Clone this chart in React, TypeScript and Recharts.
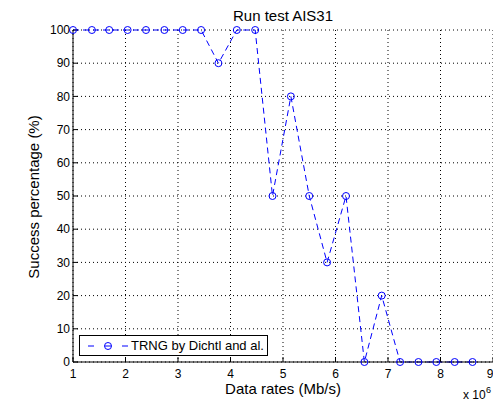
import React from 'react';
import { LineChart, Line, XAxis, YAxis, CartesianGrid, Legend } from 'recharts';

// data rates in Mb/s (axis shows x 10^6)
const rates = [
  1.0, 1.36, 1.69, 2.04, 2.39, 2.74, 3.09, 3.44, 3.77, 4.12, 4.47, 4.8,
  5.15, 5.5, 5.84, 6.2, 6.55, 6.88, 7.23, 7.58, 7.92, 8.27, 8.61,
];
const success = [
  100, 100, 100, 100, 100, 100, 100, 100, 90, 100, 100, 50,
  80, 50, 30, 50, 0, 20, 0, 0, 0, 0, 0,
];
const xTicks = [1, 2, 3, 4, 5, 6, 7, 8, 9];
const yTicks = [0, 10, 20, 30, 40, 50, 60, 70, 80, 90, 100];
const seriesName = 'TRNG by Dichtl and al.';

const data = rates.map((r, i) => ({ rate: r, pct: success[i] }));

const font = '"Liberation Sans", Arial, Helvetica, sans-serif';
const blue = '#0000ff';

const LegendBox = () => (
  <div
    style={{
      width: 187,
      height: 19,
      border: '1px solid #000',
      background: '#fff',
      display: 'flex',
      alignItems: 'center',
      fontFamily: font,
      fontSize: 13,
      color: '#000',
    }}
  >
    <svg width={50} height={19} style={{ flex: 'none' }}>
      <line x1={8} x2={14} y1={10} y2={10} stroke={blue} />
      <line x1={25} x2={31} y1={10} y2={10} stroke={blue} />
      <circle cx={28} cy={10} r={3.5} fill="none" stroke={blue} />
      <line x1={42} x2={48} y1={10} y2={10} stroke={blue} />
    </svg>
    <span style={{ marginLeft: 1 }}>{seriesName}</span>
  </div>
);

const App = () => {
  return (
    <div
      style={{
        position: 'absolute',
        left: 0,
        top: 0,
        width: 493,
        height: 402,
        overflow: 'hidden',
        background: '#fff',
        fontFamily: font,
      }}
    >
      <LineChart
        width={493}
        height={402}
        data={data}
        margin={{ top: 30, right: 0, bottom: 0, left: 0 }}
      >
        <CartesianGrid stroke="#000" strokeDasharray="1 3" />
        <XAxis
          dataKey="rate"
          type="number"
          domain={[1, 9]}
          ticks={xTicks}
          height={40}
          tickSize={-5}
          tickMargin={12}
          stroke="#000"
          tick={{ fill: '#000', fontSize: 12, fontFamily: font }}
        />
        <XAxis
          xAxisId="top"
          orientation="top"
          type="number"
          domain={[1, 9]}
          ticks={xTicks}
          height={0}
          tickSize={-5}
          tick={false}
          stroke="#000"
        />
        <YAxis
          type="number"
          domain={[0, 100]}
          ticks={yTicks}
          width={73}
          tickSize={-5}
          tickMargin={8}
          stroke="#000"
          tick={{ fill: '#000', fontSize: 12, fontFamily: font }}
        />
        <YAxis
          yAxisId="right"
          orientation="right"
          type="number"
          domain={[0, 100]}
          ticks={yTicks}
          width={0}
          tickSize={-5}
          tick={false}
          stroke="#000"
        />
        <Legend
          verticalAlign="middle"
          align="center"
          content={() => <LegendBox />}
          wrapperStyle={{ position: 'absolute', left: 79, top: 335, width: 'auto' }}
        />
        <Line
          type="linear"
          dataKey="pct"
          name={seriesName}
          stroke={blue}
          strokeWidth={1}
          strokeDasharray="6 4"
          dot={{ r: 3.5, stroke: blue, fill: 'none', strokeWidth: 1, strokeDasharray: 'none' }}
          isAnimationActive={false}
        />
      </LineChart>
      <svg
        width={493}
        height={402}
        style={{ position: 'absolute', left: 0, top: 0, pointerEvents: 'none' }}
        fontFamily={font}
        fill="#000"
      >
        <text x={283} y={21} fontSize={15} textAnchor="middle">
          Run test AIS31
        </text>
        <text x={283} y={394} fontSize={15} textAnchor="middle">
          Data rates (Mb/s)
        </text>
        <text
          x={39}
          y={197}
          fontSize={15}
          textAnchor="middle"
          transform="rotate(-90, 39, 197)"
        >
          Success percentage (%)
        </text>
        <text x={463} y={399} fontSize={12}>
          x 10
        </text>
        <text x={486} y={393} fontSize={9}>
          6
        </text>
      </svg>
    </div>
  );
};

export default App;
